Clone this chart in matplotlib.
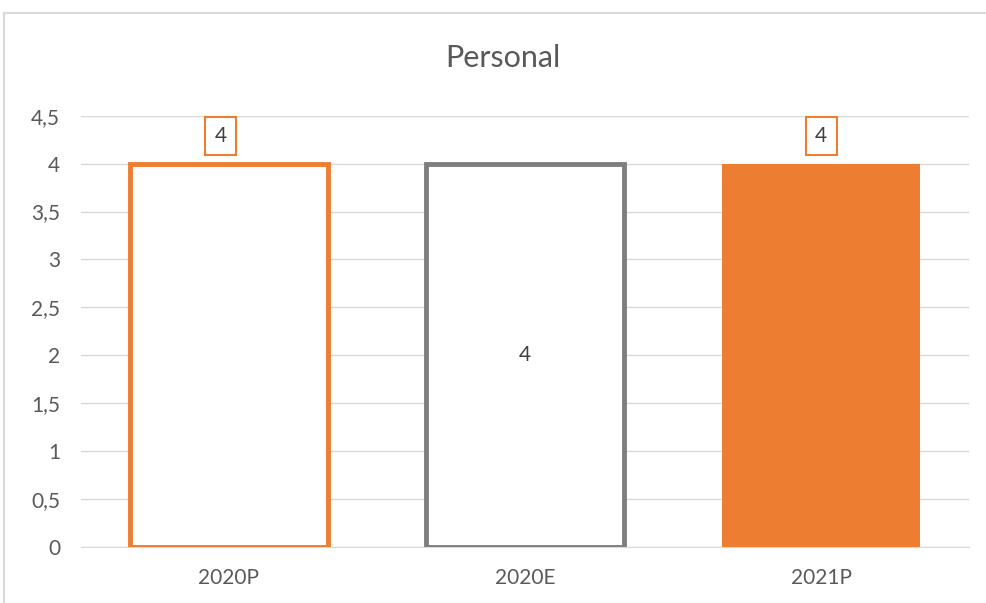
import matplotlib.pyplot as plt

# Dane wykresu
categories = ["2020P", "2020E", "2021P"]
values = [4, 4, 4]
y_ticks = [0, 0.5, 1, 1.5, 2, 2.5, 3, 3.5, 4, 4.5]

orange = "#ED7D31"
gray = "#7F7F7F"
text_color = "#595959"

plt.rcParams['font.family'] = ['Lato', 'DejaVu Sans']

fig = plt.figure(figsize=(9.87, 6.03), dpi=100)
ax = fig.add_axes([0.082, 0.093, 0.900, 0.715])

x = range(len(categories))
face_colors = ["white", "white", orange]
edge_colors = [orange, gray, orange]
widths = [3.5, 3.5, 0]
bars = ax.bar(x, values, width=0.67, color=face_colors, edgecolor=edge_colors,
              linewidth=widths, zorder=3)

ax.set_xlim(-0.5, len(categories) - 0.5)
ax.set_ylim(0, 4.5)
ax.set_yticks(y_ticks)
ax.set_yticklabels([("%g" % v).replace(".", ",") for v in y_ticks])
ax.set_xticks(list(x))
ax.set_xticklabels(categories)
ax.tick_params(axis="both", length=0, colors=text_color, labelsize=15)
ax.tick_params(axis="y", pad=15)
ax.tick_params(axis="x", pad=15)
ax.grid(axis="y", color="#D9D9D9", linewidth=1, zorder=0)
for s in ["top", "right", "left"]:
    ax.spines[s].set_visible(False)
ax.spines["bottom"].set_color("#D9D9D9")

# Etykiety danych
ax.annotate(str(values[0]), (0, values[0]), xytext=(-6, 20), textcoords="offset points",
            ha="center", va="center", fontsize=15, color="#404040",
            bbox=dict(boxstyle="square,pad=0.45", fc="white", ec=orange, lw=1.5))
ax.text(1, values[1] / 2, str(values[1]), ha="center", va="center",
        fontsize=15, color="#404040", zorder=4)
ax.annotate(str(values[2]), (2, values[2]), xytext=(0, 20), textcoords="offset points",
            ha="center", va="center", fontsize=15, color="#404040",
            bbox=dict(boxstyle="square,pad=0.45", fc="white", ec=orange, lw=1.5))

fig.text(0.51, 0.904, "Personal", ha="center", va="center", fontsize=22, color=text_color)

# Ramka obszaru wykresu
fig.add_artist(plt.Line2D([0.004, 1.0], [0.978, 0.978], color="#D9D9D9", lw=1.5,
                          transform=fig.transFigure))
fig.add_artist(plt.Line2D([0.004, 0.004], [0.0, 0.978], color="#D9D9D9", lw=1.5,
                          transform=fig.transFigure))

plt.savefig("out.png", dpi=100)
